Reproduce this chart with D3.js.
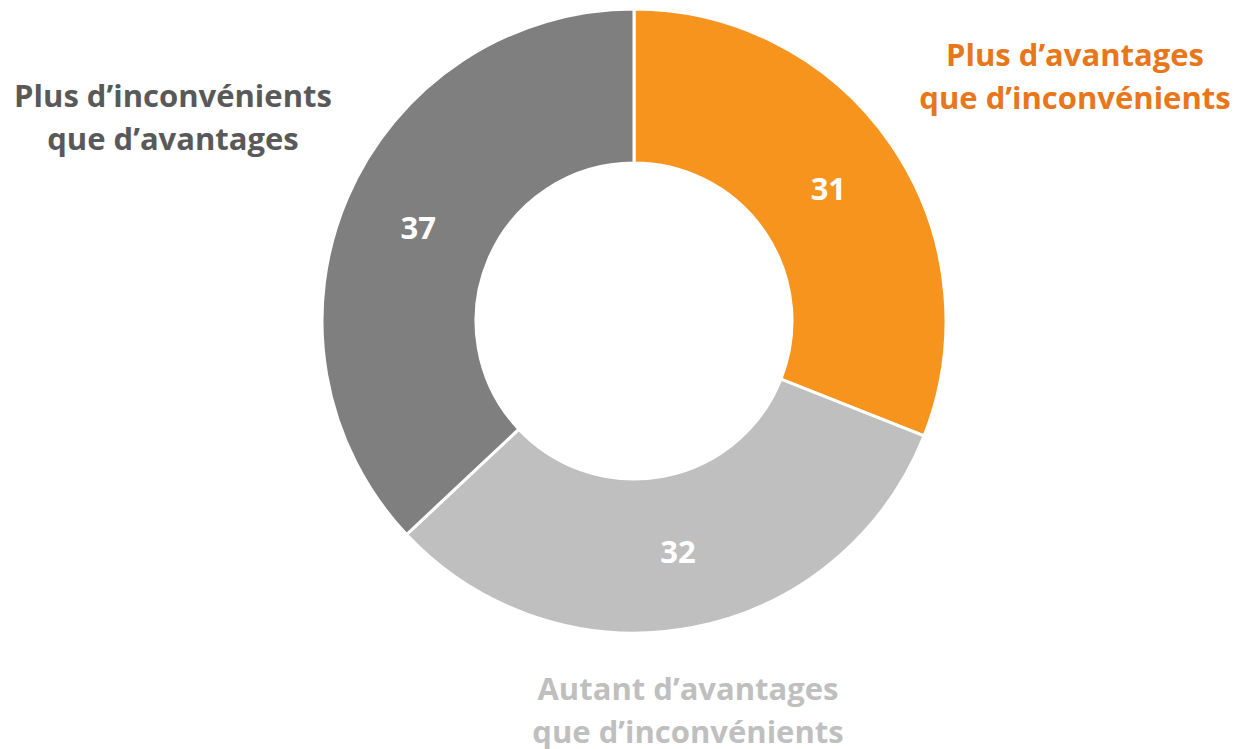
<!DOCTYPE html>
<html>
<head>
<meta charset="utf-8">
<script src="https://cdn.jsdelivr.net/npm/d3@7"></script>
<style>
  body { margin: 0; background: #fff; }
  svg text { font-family: "Open Sans", sans-serif; font-weight: 700; }
</style>
</head>
<body>
<svg id="chart" width="1235" height="749"></svg>
<script>
// data
let categories = ["Plus d\u2019avantages que d\u2019inconvénients",
                  "Autant d\u2019avantages que d\u2019inconvénients",
                  "Plus d\u2019inconvénients que d\u2019avantages"];
let values = [31, 32, 37];
let slice_colors = ["#F7941E", "#BFBFBF", "#7F7F7F"];
let label_colors = ["#E8761A", "#BFBFBF", "#595959"];
let label_lines = [["Plus d\u2019avantages", "que d\u2019inconvénients"],
                   ["Autant d\u2019avantages", "que d\u2019inconvénients"],
                   ["Plus d\u2019inconvénients", "que d\u2019avantages"]];

let svg = d3.select("#chart");
let cx = 634, cy = 321,
    r_out = 312, r_in = 158;

let pie = d3.pie().sort(null).value((d) => d);
let arc = d3.arc().innerRadius(r_in).outerRadius(r_out);
let mid_arc = d3.arc().innerRadius((r_in + r_out) / 2).outerRadius((r_in + r_out) / 2);

let g = svg.append("g").attr("transform", `translate(${cx}, ${cy})`);

g.selectAll("path.slice")
    .data(pie(values)).enter()
    .append("path")
    .classed("slice", true)
    .attr("d", arc)
    .attr("fill", (d, i) => slice_colors[i])
    .attr("stroke", "#fff")
    .attr("stroke-width", 3);

g.selectAll("text.value")
    .data(pie(values)).enter()
    .append("text")
    .classed("value", true)
    .attr("x", (d) => mid_arc.centroid(d)[0])
    .attr("y", (d) => mid_arc.centroid(d)[1])
    .attr("dy", "0.35em")
    .attr("text-anchor", "middle")
    .attr("fill", "#fff")
    .style("font-size", "31px")
    .text((d) => d.data);

// category labels placed around the ring
let label_pos = [[1075, 55], [688, 689], [173, 96]];
let lbl = svg.selectAll("text.cat")
    .data(categories).enter()
    .append("text")
    .classed("cat", true)
    .attr("text-anchor", "middle")
    .attr("fill", (d, i) => label_colors[i])
    .style("font-size", "31px");

lbl.each(function(d, i) {
    d3.select(this).selectAll("tspan")
        .data(label_lines[i]).enter()
        .append("tspan")
        .attr("x", label_pos[i][0])
        .attr("y", (t, j) => label_pos[i][1] + j * 43)
        .attr("dy", "0.35em")
        .text((t) => t);
});
</script>
</body>
</html>
